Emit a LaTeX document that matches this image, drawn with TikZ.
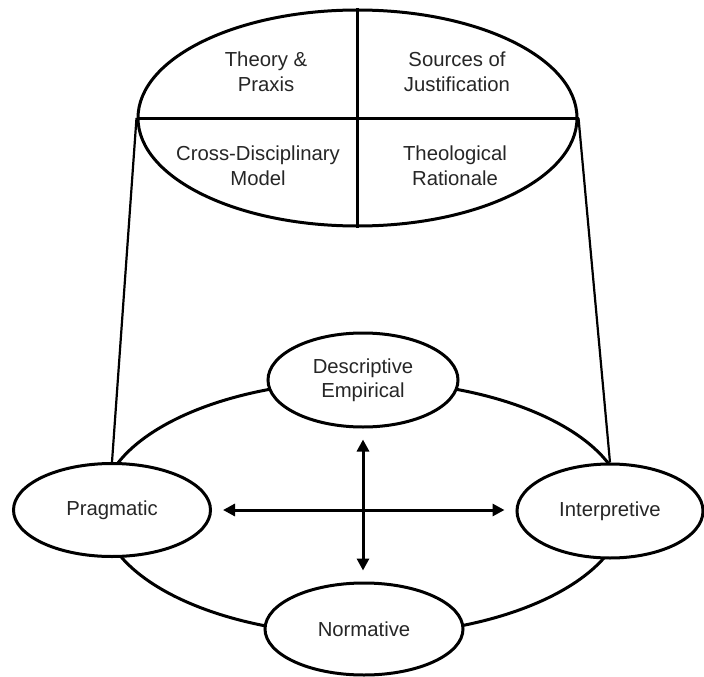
\documentclass[tikz,border=0pt]{standalone}
\usepackage{fontspec}
\setmainfont{Liberation Sans}
\usetikzlibrary{arrows.meta,shapes.geometric}
\begin{document}
\begin{tikzpicture}[x=1pt,y=-1pt,
  every node/.style={font=\fontsize{20.3}{25}\selectfont, text=black!85},
  oval/.style={ellipse, draw=black, line width=3pt, fill=white, inner sep=0pt,
               align=center},
  label/.style={align=center, inner sep=0pt},
  stroke/.style={line width=3pt, draw=black},
  tie/.style={line width=2.2pt, draw=black},
  arr/.style={line width=3pt, draw=black,
              {Triangle[length=12pt,width=12pt]}-{Triangle[length=12pt,width=12pt]},
              shorten <=11pt, shorten >=11pt}]
  \useasboundingbox (0,0) rectangle (704,677);

  % upper ellipse split into four quadrants
  \node[oval, minimum width=439pt, minimum height=216pt] (top) at (357.5,118) {};
  \draw[stroke] (top.north) -- (top.south);
  \draw[stroke] (top.west) -- (top.east);
  \node[label] (tp) at (266,72) {Theory \&\\Praxis};
  \node[label] (sj) at (457,72) {Sources of\\Justification};
  \node[label] (cd) at (258,166) {Cross-Disciplinary\\Model};
  \node[label] (tr) at (455,166) {Theological\\Rationale};

  % ring joining the four perspectives
  \node[ellipse, draw=black, line width=3pt, minimum width=524pt,
        minimum height=254pt, inner sep=0pt] (ring) at (363,508) {};

  % perspective nodes on the ring
  \node[oval, minimum width=190pt, minimum height=94pt] (desc) at (363,380)
       {Descriptive\\[-1pt]Empirical};
  \node[oval, minimum width=197pt, minimum height=93pt] (prag) at (112,510) {Pragmatic};
  \node[oval, minimum width=186pt, minimum height=94pt] (interp) at (610,511) {Interpretive};
  \node[oval, minimum width=198pt, minimum height=92pt] (norm) at (364,629) {Normative};

  % side lines from the upper ellipse down to the ring
  \draw[tie] (top.west) -- (prag.north);
  \draw[tie] (top.east) -- (interp.north);

  % crossing double-headed arrows
  \draw[arr] (prag.east) -- (prag.east -| interp.west);
  \draw[arr] (desc.south) -- (desc.south |- norm.north);
\end{tikzpicture}
\end{document}
